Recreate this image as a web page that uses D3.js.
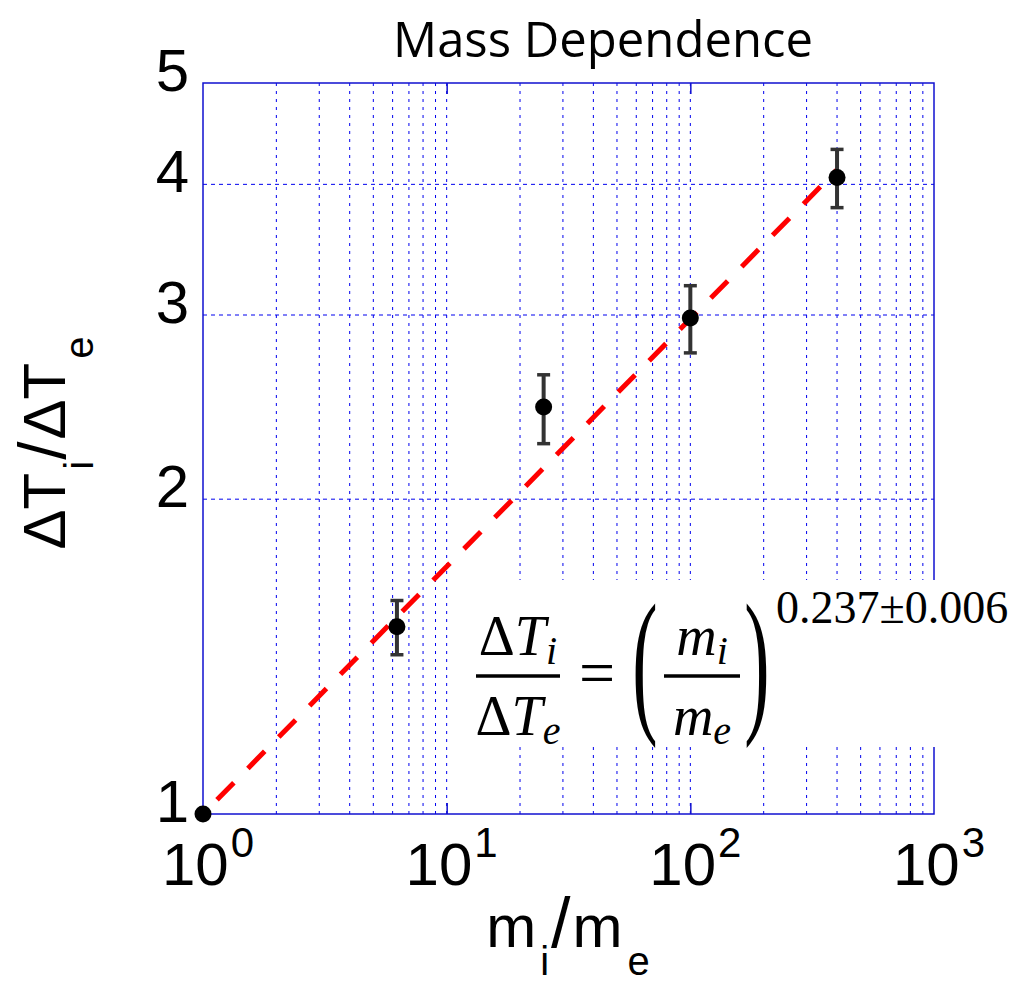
<!DOCTYPE html>
<html>
<head>
<meta charset="utf-8">
<script src="https://cdn.jsdelivr.net/npm/d3@7"></script>
<style>
  body { margin: 0; background: #fff; }
  svg { display: block; }
</style>
</head>
<body>
<svg width="1013" height="984"></svg>
<script>
// data
const massRatio = [1, 6.25, 25, 100, 400];
const tempRatio = [1, 1.51, 2.45, 2.98, 4.06];
const tempLow = [null, 1.42, 2.26, 2.76, 3.8];
const tempHigh = [null, 1.6, 2.63, 3.2, 4.32];
const fitMass = [1, 400];
const fitTemp = [1, 4.13];
const xTickValues = [1, 10, 100, 1000];
const xTickPowers = ["0", "1", "2", "3"];
const yTickValues = [1, 2, 3, 4, 5];
const yGridValues = [2, 3, 4];

const svg = d3.select("svg");
const plotLeft = 203, plotTop = 83, plotRight = 934, plotBottom = 814;

const x = d3.scaleLog().domain([1, 1000]).range([plotLeft, plotRight]);
const y = d3.scaleLog().domain([1, 5]).range([plotBottom, plotTop]);

const gridColor = "#0000ee";
const axisColor = "#1010d0";

// grid
const grid = svg.append("g").attr("class", "grid");
grid
  .selectAll("line.vx")
  .data(x.ticks().filter((d) => d > 1 && d < 1000))
  .enter()
  .append("line")
  .attr("x1", (d) => x(d))
  .attr("x2", (d) => x(d))
  .attr("y1", plotTop)
  .attr("y2", plotBottom)
  .attr("stroke", gridColor)
  .attr("stroke-width", 1)
  .attr("stroke-dasharray", "3,5");

grid
  .selectAll("line.hy")
  .data(yGridValues)
  .enter()
  .append("line")
  .attr("x1", plotLeft)
  .attr("x2", plotRight)
  .attr("y1", (d) => y(d))
  .attr("y2", (d) => y(d))
  .attr("stroke", gridColor)
  .attr("stroke-width", 1)
  .attr("stroke-dasharray", "4,4");

// inward ticks on top and bottom at decades
const tickAxisBottom = d3.axisBottom(x).tickValues([10, 100]).tickSize(-11).tickFormat("");
const tickAxisTop = d3.axisTop(x).tickValues([10, 100]).tickSize(-11).tickFormat("");
[
  [tickAxisBottom, plotBottom],
  [tickAxisTop, plotTop],
].forEach(([ax, ypos]) => {
  const g = svg.append("g").attr("transform", `translate(0,${ypos})`).call(ax);
  g.select(".domain").remove();
  g.selectAll("line").attr("stroke", axisColor).attr("stroke-width", 1.5);
});

// formula box hides the grid behind it
svg
  .append("rect")
  .attr("x", 466)
  .attr("y", 580)
  .attr("width", 547)
  .attr("height", 167)
  .attr("fill", "#fff");

// frame
svg
  .append("rect")
  .attr("x", plotLeft)
  .attr("y", plotTop)
  .attr("width", plotRight - plotLeft)
  .attr("height", plotBottom - plotTop)
  .attr("fill", "none")
  .attr("stroke", axisColor)
  .attr("stroke-width", 1.5);

svg
  .append("rect")
  .attr("x", 930)
  .attr("y", 580)
  .attr("width", 10)
  .attr("height", 167)
  .attr("fill", "#fff");

// fit line
const line = d3
  .line()
  .x((d) => x(d[0]))
  .y((d) => y(d[1]));

svg
  .append("path")
  .datum(d3.zip(fitMass, fitTemp))
  .attr("d", line)
  .attr("fill", "none")
  .attr("stroke", "#ff0000")
  .attr("stroke-width", 5)
  .attr("stroke-dasharray", "24,20")
  .attr("stroke-dashoffset", 24);

// error bars
const pts = massRatio.map((m, i) => ({
  m,
  t: tempRatio[i],
  lo: tempLow[i],
  hi: tempHigh[i],
}));

const err = svg
  .append("g")
  .selectAll("g")
  .data(pts.filter((d) => d.lo !== null))
  .enter()
  .append("g")
  .attr("stroke", "#333");

err
  .append("line")
  .attr("x1", (d) => x(d.m))
  .attr("x2", (d) => x(d.m))
  .attr("y1", (d) => y(d.lo))
  .attr("y2", (d) => y(d.hi))
  .attr("stroke-width", 4);

["lo", "hi"].forEach((k) => {
  err
    .append("line")
    .attr("x1", (d) => x(d.m) - 6.5)
    .attr("x2", (d) => x(d.m) + 6.5)
    .attr("y1", (d) => y(d[k]))
    .attr("y2", (d) => y(d[k]))
    .attr("stroke-width", 3.5);
});

svg
  .append("g")
  .selectAll("circle")
  .data(pts)
  .enter()
  .append("circle")
  .attr("cx", (d) => x(d.m))
  .attr("cy", (d) => y(d.t))
  .attr("r", 8.5)
  .attr("fill", "#000");

// tick labels
const labelFont = "'Liberation Sans', Arial, sans-serif";

svg
  .append("g")
  .selectAll("text")
  .data(yTickValues)
  .enter()
  .append("text")
  .attr("x", 189)
  .attr("y", (d) => y(d) + 8)
  .attr("text-anchor", "end")
  .attr("font-family", labelFont)
  .attr("font-size", 60)
  .text((d) => d);

const xLab = svg
  .append("g")
  .selectAll("text")
  .data(xTickValues)
  .enter()
  .append("text")
  .attr("x", (d) => x(d) + 5)
  .attr("y", 885)
  .attr("text-anchor", "middle")
  .attr("font-family", labelFont)
  .attr("font-size", 60);
xLab.append("tspan").text("10");
xLab
  .append("tspan")
  .attr("dx", 2)
  .attr("dy", -28)
  .attr("font-size", 42)
  .text((d, i) => xTickPowers[i]);

// axis titles
const xTitle = svg
  .append("text")
  .attr("x", 568)
  .attr("y", 947)
  .attr("text-anchor", "middle")
  .attr("font-family", labelFont)
  .attr("font-size", 60);
xTitle.append("tspan").text("m");
xTitle.append("tspan").attr("dx", 4).attr("dy", 28).attr("font-size", 40).text("i");
xTitle.append("tspan").attr("dx", 2).attr("dy", -28).attr("font-size", 70).text("/");
xTitle.append("tspan").attr("dx", 2).text("m");
xTitle.append("tspan").attr("dx", 5).attr("dy", 28).attr("font-size", 40).text("e");

const yTitle = svg
  .append("text")
  .attr("transform", "translate(65,443) rotate(-90)")
  .attr("text-anchor", "middle")
  .attr("font-family", labelFont)
  .attr("font-size", 60);
yTitle.append("tspan").text("\u0394T");
yTitle.append("tspan").attr("dx", 3).attr("dy", 28).attr("font-size", 40).text("i");
yTitle.append("tspan").attr("dx", 1).attr("dy", -28).attr("font-size", 66).text("/");
yTitle.append("tspan").attr("dx", 2).text("\u0394T");
yTitle.append("tspan").attr("dx", 4).attr("dy", 28).attr("font-size", 40).text("e");

// title
svg
  .append("text")
  .attr("x", 603)
  .attr("y", 57)
  .attr("text-anchor", "middle")
  .attr("font-family", "'Open Sans', sans-serif")
  .attr("font-size", 49)
  .text("Mass Dependence");

// formula
const mathFont = "'Liberation Serif', 'Times New Roman', serif";
const f = svg.append("g").attr("font-family", mathFont).attr("fill", "#000");

function frac(cx, x0, x1, topStr, topSub, botStr, botSub) {
  const num = f
    .append("text")
    .attr("x", cx)
    .attr("y", 655)
    .attr("text-anchor", "middle")
    .attr("font-size", 56);
  topStr(num);
  num.append("tspan").attr("dy", 9).attr("font-size", 40).attr("font-style", "italic").text(topSub);
  const den = f
    .append("text")
    .attr("x", cx)
    .attr("y", 735)
    .attr("text-anchor", "middle")
    .attr("font-size", 56);
  botStr(den);
  den.append("tspan").attr("dy", 9).attr("font-size", 40).attr("font-style", "italic").text(botSub);
  f.append("line")
    .attr("x1", x0)
    .attr("x2", x1)
    .attr("y1", 676)
    .attr("y2", 676)
    .attr("stroke", "#000")
    .attr("stroke-width", 3.5);
}

const deltaT = (t) => {
  t.append("tspan").text("\u0394");
  t.append("tspan").attr("font-style", "italic").text("T");
};
const massM = (t) => {
  t.append("tspan").attr("font-style", "italic").text("m");
};

frac(518, 476, 560, deltaT, "i", deltaT, "e");

f.append("text")
  .attr("x", 597)
  .attr("y", 694)
  .attr("text-anchor", "middle")
  .attr("font-size", 64)
  .text("=");

f.append("text")
  .attr("transform", "translate(645,714) scale(1,2.1)")
  .attr("text-anchor", "middle")
  .attr("font-size", 76)
  .text("(");

f.append("text")
  .attr("transform", "translate(757,714) scale(1,2.1)")
  .attr("text-anchor", "middle")
  .attr("font-size", 76)
  .text(")");

frac(702, 664, 740, massM, "i", massM, "e");

f.append("text")
  .attr("x", 776)
  .attr("y", 623)
  .attr("font-size", 46)
  .text("0.237\u00b10.006");
</script>
</body>
</html>
